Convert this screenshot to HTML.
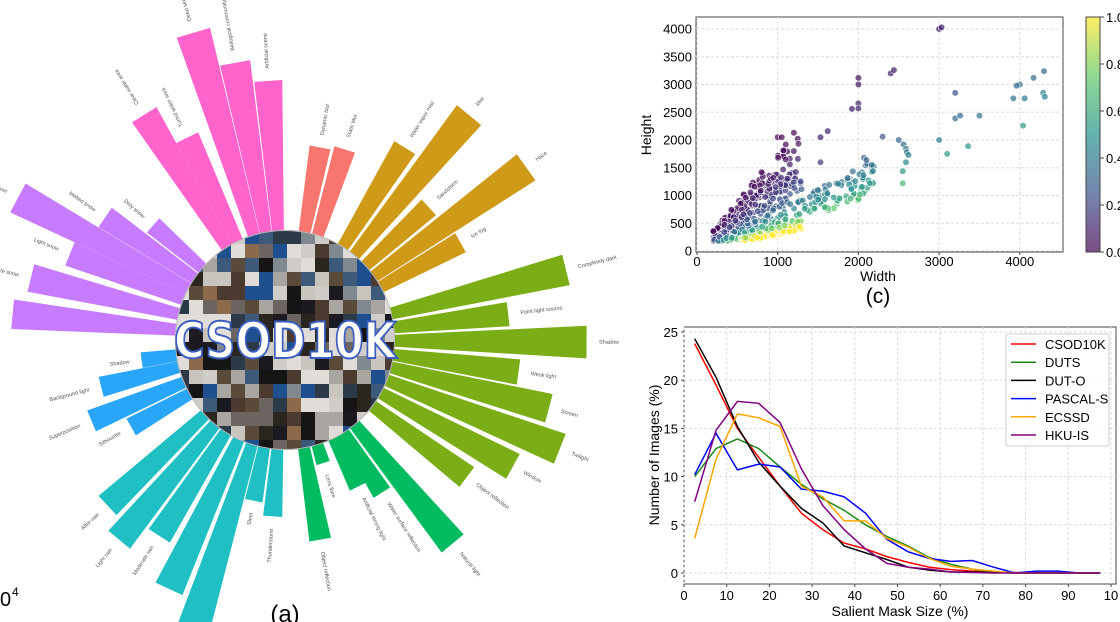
<!DOCTYPE html>
<html><head><meta charset="utf-8"><style>
html,body{margin:0;padding:0;background:#fff;width:1120px;height:622px;overflow:hidden;}
body{position:relative;font-family:"Liberation Sans","DejaVu Sans",sans-serif;}
svg{position:absolute;left:0;top:0;overflow:hidden;}
</style></head><body>
<svg id="s" width="1120" height="622" viewBox="0 0 1120 622" xmlns="http://www.w3.org/2000/svg">
<defs><clipPath id="cc"><circle cx="285" cy="340" r="110"/></clipPath>
<clipPath id="full"><rect x="0" y="0" width="1120" height="622"/></clipPath>
<linearGradient id="vir" x1="0" y1="1" x2="0" y2="0">
<stop offset="0" stop-color="#440154"/><stop offset="0.25" stop-color="#3b528b"/><stop offset="0.5" stop-color="#21918c"/><stop offset="0.75" stop-color="#5ec962"/><stop offset="1" stop-color="#fde725"/></linearGradient></defs>
<g clip-path="url(#full)">
<g id="polar"></g>
<g id="mosaic" clip-path="url(#cc)"></g>
<text x="285" y="358" text-anchor="middle" font-family="DejaVu Sans, sans-serif" font-weight="bold" font-size="50" textLength="222" lengthAdjust="spacingAndGlyphs" fill="#fff" stroke="#3a5fc0" stroke-width="2">CSOD10K</text>
<text x="285" y="622" text-anchor="middle" font-size="24" fill="#000">(a)</text>
<text x="0" y="606" font-size="20" fill="#000">0</text><text x="12" y="596" font-size="12">4</text>
<g id="scat"></g>
<g id="line"></g>
</g>
</svg>
<script>
var NS="http://www.w3.org/2000/svg";
function el(p,t,a,txt){var e=document.createElementNS(NS,t);for(var k in a)e.setAttribute(k,a[k]);if(txt!==undefined)e.textContent=txt;p.appendChild(e);return e;}
var seed=7;function rnd(){seed=(seed*16807)%2147483647;return seed/2147483647;}
var cx=285,cy=340,r0=108;
var bars=[
["#ff63cc",[[-32,266,"Clear water area"],[-25.8,225,"Turbid water area"],[-16.6,321,"Deep sea"],[-10.2,282,"Biological community"],[-3.7,260,"Artificial scene"]]],
["#f8766d",[[10.3,196,"Dynamic blur"],[17.4,200,"Static blur"]]],
["#cf9a18",[[31.9,227,"Water vapor mist"],[39.3,291,"Mist"],[47.3,196,"Sandstorm"],[54.4,297,"Haze"],[61,201,"Ice fog"]]],
["#7aad16",[[76,290,"Completely dark"],[83.4,225,"Point light source"],[90.4,302,"Shadow"],[97.8,236,"Weak light"],[104.5,273,"Screen"],[111.6,296,"Twilight"],[119,261,"Window"],[127,228,"Object reflection"]]],
["#00bb5f",[[140.5,264,"Natural light"],[147.6,181,"Water surface reflection"],[153.6,164,"Artificial strong light"],[162.8,129,"Lens flare"],[170,203,"Object reflection"]]],
["#1fbfc4",[[184,177,"Thunderstorm"],[191,164,"Sleet"],[197.6,320,"Heavy rain"],[205,275,""],[212.7,233,"Moderate rain"],[219.7,260,"Light rain"],[227,243,"After-rain"]]],
["#2aa6f8",[[240.5,177,"Silhouette"],[247.3,210,"Superposition"],[255.7,190,"Background light"],[262,145,"Shadow"]]],
["#c77cff",[[275.4,274,""],[283.7,262,"Moderate snow"],[291.8,232,"Light snow"],[298,303,"Snow cover"],[304.3,218,"Melted snow"],[311,175,"Dirty snow"]]]
];
var pg=document.getElementById("polar");
function pt(a,r){var t=a*Math.PI/180;return [cx+r*Math.sin(t),cy-r*Math.cos(t)];}
bars.forEach(function(g){g[1].forEach(function(b){
 var a=b[0],r=b[1],h=3.1;
 var p1=pt(a-h,r0),p2=pt(a-h,r),p3=pt(a+h,r),p4=pt(a+h,r0);
 el(pg,"path",{d:"M"+p1+"L"+p2+"L"+p3+"L"+p4+"Z",fill:g[0]});
 if(b[2]){var q=pt(a,r+12);var rot=a-90;var anc="start";if(a>180&&a<360){rot=a+90;anc="end";}
  el(pg,"text",{x:q[0],y:q[1],"font-size":"5.5",fill:"#555","text-anchor":anc,"dominant-baseline":"middle",transform:"rotate("+rot+" "+q[0]+" "+q[1]+")"},b[2]);}
});});
var mg=document.getElementById("mosaic");
var pal=["#2b2520","#6b6460","#a9a5a0","#1a1a20","#3d5a7a","#c8c4be","#5a4a3a","#1f4f8f","#808890","#4a3a30","#d0ccc8","#2c3a48","#8a6a4a","#e0dcd8","#151515"];
for(var i=0;i<16;i++)for(var j=0;j<16;j++){el(mg,"rect",{x:175+j*14,y:230+i*14,width:14.5,height:14.5,fill:pal[Math.floor(rnd()*pal.length)]});}
el(mg,"circle",{cx:285,cy:340,r:110,fill:"none",stroke:"#bbb","stroke-width":2});
var sg=document.getElementById("scat");
function X(w){return 697+w*0.0807;}function Y(h){return 251-h*0.0555;}
el(sg,"rect",{x:696,y:17,width:367,height:235,fill:"#fff",stroke:"#444","stroke-width":1});
[0,1000,2000,3000,4000].forEach(function(v){el(sg,"line",{x1:X(v),x2:X(v),y1:17,y2:252,stroke:"#ddd","stroke-dasharray":"3,2"});el(sg,"line",{x1:X(v),x2:X(v),y1:252,y2:255,stroke:"#444"});el(sg,"text",{x:X(v),y:266,"font-size":"13","text-anchor":"middle"},v);});
[0,500,1000,1500,2000,2500,3000,3500,4000].forEach(function(v){el(sg,"line",{x1:696,x2:1063,y1:Y(v),y2:Y(v),stroke:"#ddd","stroke-dasharray":"3,2"});el(sg,"text",{x:692,y:Y(v)+4.5,"font-size":"13","text-anchor":"end"},v);});
el(sg,"text",{x:878,y:281,"font-size":"14","text-anchor":"middle"},"Width");
el(sg,"text",{x:651,y:135,"font-size":"14","text-anchor":"middle",transform:"rotate(-90 651 135)"},"Height");
el(sg,"text",{x:878,y:303,"font-size":"21","text-anchor":"middle"},"(c)");
function vir(t){var s=[[68,1,84],[59,82,139],[33,145,140],[94,201,98],[253,231,37]];t=Math.max(0,Math.min(1,t))*4;var i=Math.min(3,Math.floor(t)),f=t-i;var c=s[i].map(function(v,k){return Math.round(v+(s[i+1][k]-v)*f);});return "rgb("+c+")";}
function dot(w,h){var t=(w/h-0.55)/2.3;el(sg,"circle",{cx:X(w),cy:Y(h),r:3.3,fill:vir(t),"fill-opacity":0.7,stroke:"#fff","stroke-width":0.6});}
for(var i=0;i<550;i++){var w=200+Math.pow(rnd(),1.2)*1100;var ar=0.3+Math.pow(rnd(),1.6)*1.5;var h=w*ar;if(h<180)h=180+rnd()*100;if(h>1400&&rnd()<0.7)continue;if(h>2100)continue;dot(w,h);}
for(var i=0;i<90;i++){var w=1300+rnd()*900;var h=w*(0.45+rnd()*0.3);dot(w,h);}
[[3000,4000],[3030,4030],[2400,3200],[2440,3260],[2000,3120],[2000,3000],[2000,2660],[1920,2560],[2000,2570],[4300,3240],[4170,3120],[4000,3000],[3960,2980],[3200,2850],[3920,2750],[4060,2750],[4290,2850],[4310,2780],[3200,2390],[3260,2440],[3500,2440],[4040,2260],[2300,2060],[3000,2000],[2500,2000],[2560,1920],[2590,1840],[2600,1780],[2620,1730],[2590,1600],[3100,1750],[3360,1890],[2550,1440],[2550,1220],[1530,2050],[1620,2160],[1530,1600],[2070,1680],[2100,1640],[2180,1440],[1000,2050],[1050,2050],[1200,2130],[1100,1920],[1200,1800],[1250,1660],[1150,1560],[800,1420]].forEach(function(p){dot(p[0],p[1]);});
el(sg,"rect",{x:1086,y:17,width:14,height:235,fill:"url(#vir)","fill-opacity":0.7,stroke:"#444","stroke-width":1});
[["1.0",17],["0.8",64],["0.6",111],["0.4",158],["0.2",205],["0.0",252]].forEach(function(p){el(sg,"line",{x1:1100,x2:1104,y1:p[1],y2:p[1],stroke:"#444"});el(sg,"text",{x:1106,y:p[1]+5,"font-size":"13"},p[0]);});
var lg=document.getElementById("line");
function LX(v){return 684+v*4.27;}function LY(v){return 573-v*9.64;}
el(lg,"rect",{x:684,y:327,width:432,height:257,fill:"#fff",stroke:"#444","stroke-width":1});
for(var v=0;v<=100;v+=10){el(lg,"line",{x1:LX(v),x2:LX(v),y1:327,y2:584,stroke:"#ddd","stroke-dasharray":"3,2"});el(lg,"line",{x1:LX(v),x2:LX(v),y1:584,y2:587,stroke:"#444"});el(lg,"text",{x:LX(v),y:600,"font-size":"13","text-anchor":"middle"},v==100?"10":v);}
for(var v=0;v<=25;v+=5){el(lg,"line",{x1:684,x2:1116,y1:LY(v),y2:LY(v),stroke:"#ddd","stroke-dasharray":"3,2"});el(lg,"line",{x1:681,x2:684,y1:LY(v),y2:LY(v),stroke:"#444"});el(lg,"text",{x:678,y:LY(v)+5,"font-size":"13","text-anchor":"end"},v);}
el(lg,"text",{x:900,y:616,"font-size":"14","text-anchor":"middle"},"Salient Mask Size (%)");
el(lg,"text",{x:659,y:455,"font-size":"14","text-anchor":"middle",transform:"rotate(-90 659 455)"},"Number of Images (%)");
var z=function(n){var a=[];for(var i=0;i<n;i++)a.push(0);return a;};
var series=[
["CSOD10K","#ff0000",[23.8,19.5,15,12,9,6.2,4.5,3.1,2.5,1.7,1.1,0.6,0.35,0.2,0.1,0.05].concat(z(4))],
["DUTS","#1a8a1a",[10,12.9,13.9,12.9,11,9.2,7.7,6.5,5,3.8,2.8,1.6,0.9,0.4,0.1].concat(z(5))],
["DUT-O","#000000",[24.3,20.3,15.2,11.5,9,6.7,5.2,2.8,2.1,1.4,0.6,0.3,0.1,0.1,0.05].concat(z(5))],
["PASCAL-S","#0000ff",[10.2,14.5,10.7,11.3,11,8.7,8.5,7.9,6.2,3.5,2.2,1.5,1.2,1.3,0.6,0,0.2,0.2,0,0]],
["ECSSD","#ffa500",[3.6,11.8,16.5,16.1,15.2,9,7.9,5.4,5.4,3.6,2.7,1.5,0.7,0.4,0.2].concat(z(5))],
["HKU-IS","#800080",[7.4,14.8,17.8,17.6,15.6,10.8,7,4.5,2.5,1.0,0.6,0.4,0.1,0.05].concat(z(6))]];
series.forEach(function(s){var d=s[2].map(function(v,i){return (i?"L":"M")+LX(2.5+5*i).toFixed(1)+","+LY(v).toFixed(1);}).join("");el(lg,"path",{d:d,fill:"none",stroke:s[1],"stroke-width":1.5});});
el(lg,"rect",{x:1006,y:334,width:103,height:112,fill:"#fff","fill-opacity":0.9,stroke:"#ccc",rx:2});
series.forEach(function(s,i){var y=344+i*18.2;el(lg,"line",{x1:1011,x2:1036,y1:y,y2:y,stroke:s[1],"stroke-width":1.5});el(lg,"text",{x:1045,y:y+5,"font-size":"13"},s[0]);});
</script>
</body></html>
